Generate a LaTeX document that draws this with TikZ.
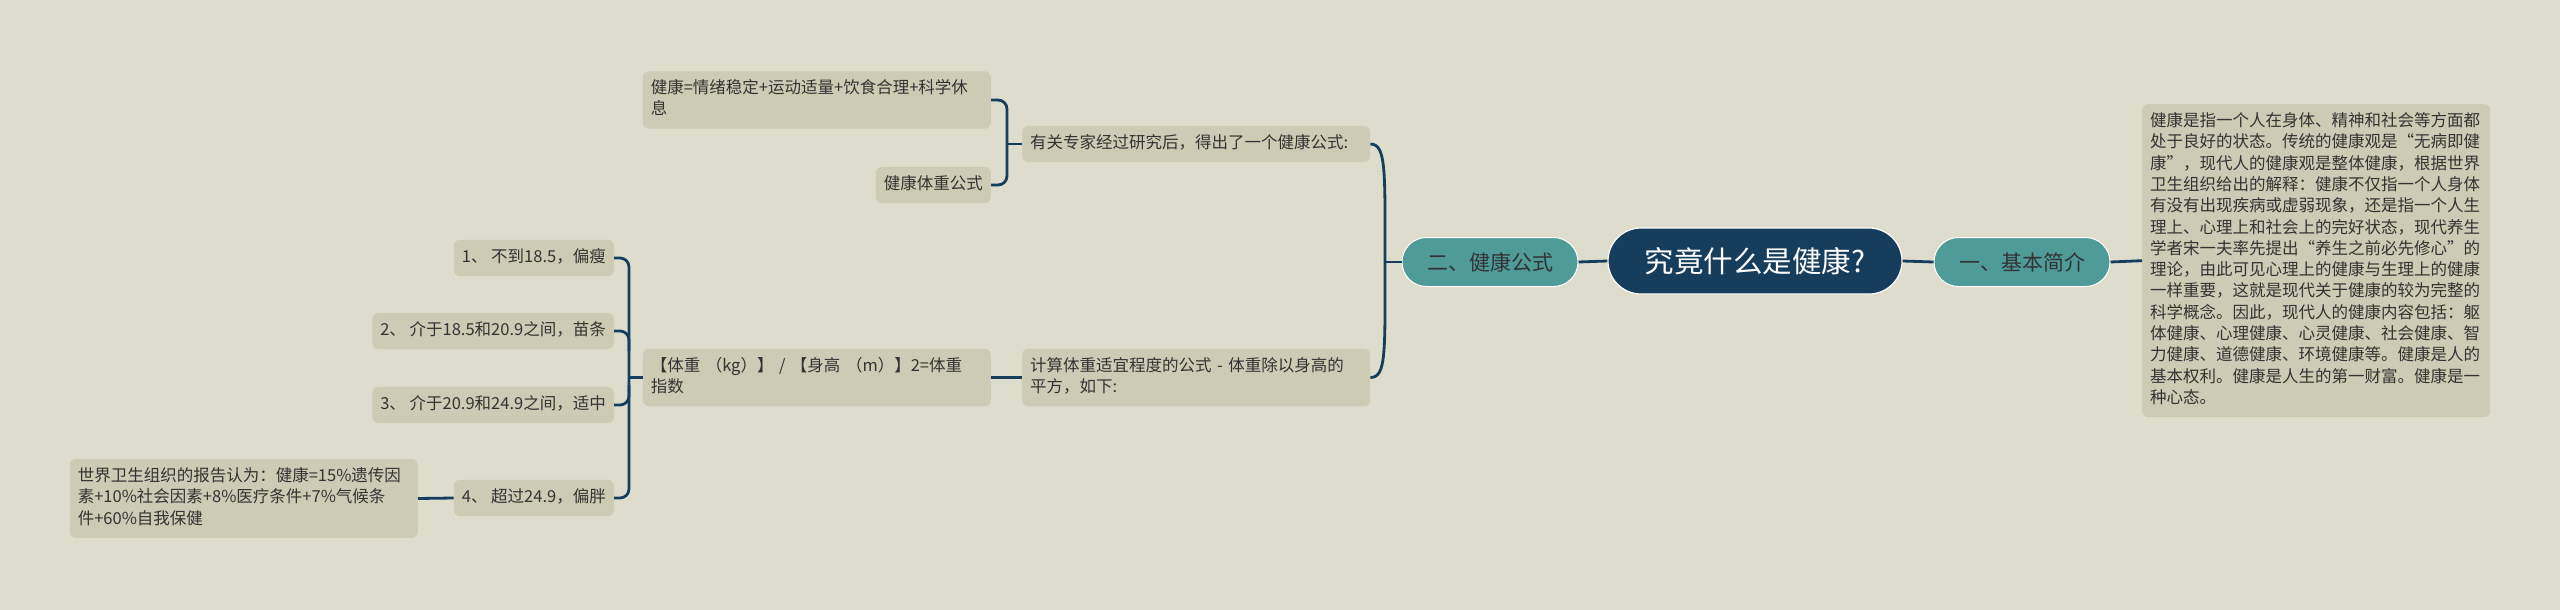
\documentclass[tikz,border=0pt]{standalone}
\usepackage{fontspec}
\setmainfont{Noto Sans CJK SC}
\definecolor{bg}{HTML}{DEDDCD}
\definecolor{leaf}{HTML}{CDCBB4}
\definecolor{navy}{HTML}{173D5C}
\definecolor{tealone}{HTML}{4E9B98}
\definecolor{txt}{HTML}{333333}
\begin{document}
\begin{tikzpicture}[x=1pt,y=-1pt,
  conn/.style={draw=navy,line width=2.8pt},
  leafbox/.style={fill=leaf,rounded corners=6pt,text=txt,
    font=\fontsize{16.5}{21.3}\selectfont,inner xsep=8pt,inner ysep=7.4pt,
    execute at begin node=\strut,execute at end node=\strut},
  wide/.style={leafbox,text width=332pt,align=left},
  rootbox/.style={fill=navy,draw=white,line width=1.2pt,text=white,
    font=\fontsize{29.5}{34}\selectfont,minimum width=294pt,minimum height=66pt,
    rounded corners=33pt,inner sep=0pt},
  lvlbox/.style={fill=tealone,draw=white,line width=1pt,text=txt,
    font=\fontsize{21}{25}\selectfont,minimum width=176pt,minimum height=49pt,
    rounded corners=24.5pt,inner sep=0pt}]
\fill[bg] (0,0) rectangle (2560,610);
\useasboundingbox (0,0) rectangle (2560,610);

% nodes
\node[rootbox] (root) at (1755,261) {究竟什么是健康?};
\node[lvlbox] (b1) at (2022,262) {一、基本简介};
\node[lvlbox] (b2) at (1490,262) {二、健康公式};

\node[wide,anchor=north west] (d1) at (2142,104) {健康是指一个人在身体、精神和社会等方面都\\处于良好的状态。传统的健康观是“无病即健\\康”，现代人的健康观是整体健康，根据世界\\卫生组织给出的解释：健康不仅指一个人身体\\有没有出现疾病或虚弱现象，还是指一个人生\\理上、心理上和社会上的完好状态，现代养生\\学者宋一夫率先提出“养生之前必先修心”的\\理论，由此可见心理上的健康与生理上的健康\\一样重要，这就是现代关于健康的较为完整的\\科学概念。因此，现代人的健康内容包括：躯\\体健康、心理健康、心灵健康、社会健康、智\\力健康、道德健康、环境健康等。健康是人的\\基本权利。健康是人生的第一财富。健康是一\\种心态。};

\node[wide,anchor=west] (c1) at (1022,144) {有关专家经过研究后，得出了一个健康公式:};
\node[wide,anchor=west] (c2) at (1022,377.5) {计算体重适宜程度的公式 - 体重除以身高的\\平方，如下:};

\node[wide,anchor=east] (e1) at (991,100) {健康=情绪稳定+运动适量+饮食合理+科学休\\息};
\node[leafbox,anchor=east] (e2) at (991,185) {健康体重公式};
\node[wide,anchor=east] (f1) at (991,377.5) {【体重 （kg）】 / 【身高 （m）】2=体重\\指数};

\node[leafbox,anchor=east] (g1) at (614,258) {1、 不到18.5，偏瘦};
\node[leafbox,anchor=east] (g2) at (614,331) {2、 介于18.5和20.9之间，苗条};
\node[leafbox,anchor=east] (g3) at (614,405) {3、 介于20.9和24.9之间，适中};
\node[leafbox,anchor=east] (g4) at (614,498) {4、 超过24.9，偏胖};

\node[wide,anchor=east] (h1) at (418,498.5) {世界卫生组织的报告认为：健康=15\%遗传因\\素+10\%社会因素+8\%医疗条件+7\%气候条\\件+60\%自我保健};

% connectors
\draw[conn] (root.west) -- (b2.east);
\draw[conn] (root.east) -- (b1.west);
\draw[conn] (b1.east) -- (d1.west);

\coordinate (j1) at (1385,262);
\draw[conn] (b2.west) -- (j1);
\draw[conn] (j1) .. controls +(0,-90) and +(16,0) .. (c1.east);
\draw[conn] (j1) .. controls +(0,90) and +(16,0) .. (c2.east);

\coordinate (j2) at (1007,144);
\draw[conn] (j2) -- (c1.west);
\draw[conn,rounded corners=9pt] (e1.east) -- (e1.east -| j2) -- (e2.east -| j2) -- (e2.east);

\draw[conn] (f1.east) -- (c2.west);

\coordinate (j3) at (629,377.5);
\draw[conn] (j3) -- (f1.west);
\draw[conn,rounded corners=9pt] (g1.east) -- (g1.east -| j3) -- (g4.east -| j3) -- (g4.east);
\draw[conn,rounded corners=9pt] (g2.east) -- (g2.east -| j3) -- ++(0,20);
\draw[conn,rounded corners=9pt] (g3.east) -- (g3.east -| j3) -- ++(0,-20);
\draw[conn] (h1.east) -- (g4.west);
\end{tikzpicture}
\end{document}
